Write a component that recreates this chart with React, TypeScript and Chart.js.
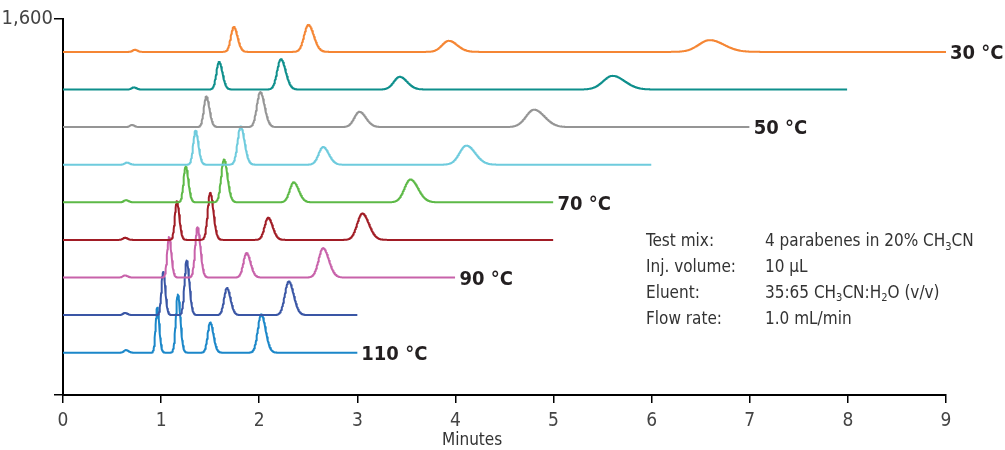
import React, { useEffect, useRef } from 'react';
import { Chart, registerables } from 'chart.js';

Chart.register(...registerables);

// ---- Data ----
const temperatures = [30, 40, 50, 60, 70, 80, 90, 100, 110];
const labeledTemperatures = [30, 50, 70, 90, 110];
const baselineOffsets = [1460, 1300, 1140, 980, 820, 660, 500, 340, 180];
const runEndMinutes = [9, 8, 7, 6, 5, 5, 4, 3, 3];

// retention times (minutes) per temperature
const rtVoid = [0.73, 0.72, 0.7, 0.65, 0.64, 0.63, 0.63, 0.63, 0.64];
const rtPeak1 = [1.74, 1.59, 1.46, 1.35, 1.25, 1.16, 1.08, 1.02, 0.96];
const rtPeak2 = [2.5, 2.22, 2.01, 1.81, 1.64, 1.5, 1.37, 1.26, 1.17];
const rtPeak3 = [3.93, 3.43, 3.02, 2.65, 2.35, 2.09, 1.87, 1.67, 1.5];
const rtPeak4 = [6.59, 5.6, 4.8, 4.11, 3.54, 3.05, 2.65, 2.3, 2.02];

// peak heights (signal units above baseline)
const hVoid = [9, 9, 9, 9, 9, 9, 9, 9, 11];
const hPeak1 = [106, 117, 130, 145, 153, 164, 172, 183, 191];
const hPeak2 = [115, 129, 149, 163, 182, 200, 214, 232, 248];
const hPeak3 = [47, 54, 65, 75, 85, 94, 104, 115, 128];
const hPeak4 = [50, 58, 74, 81, 97, 112, 125, 143, 163];

const xTickValues = [0, 1, 2, 3, 4, 5, 6, 7, 8, 9];
const yTickValues = [0, 1600];

const infoLabels = ['Test mix:', 'Inj. volume:', 'Eluent:', 'Flow rate:'];
const infoValues = ['4 parabenes in 20% CH_3CN', '10 µL', '35:65 CH_3CN:H_2O (v/v)', '1.0 mL/min'];

// ---- styles ----
const traceColors = ['#F58634', '#0E8F8C', '#959595', '#6ECBDD', '#5DB947', '#A11C25', '#C862AA', '#3A56A5', '#1B87C9'];
const NARROW = '"Liberation Sans Narrow", "Arial Narrow", "DejaVu Sans Condensed", sans-serif';
const PEAK_WIDTH_FRACTION = 0.017;
const VOID_SIGMA = 0.02;
const TAIL = 1.3;
const STEP = 0.004;

function peakShape(x: number, t: number, h: number, s: number) {
  const d = x - t;
  const sig = d < 0 ? s : s * TAIL;
  return h * Math.exp(-0.5 * (d / sig) * (d / sig));
}

function buildTrace(i: number) {
  const pts: { x: number; y: number }[] = [];
  const peaks = [
    [rtVoid[i], hVoid[i], VOID_SIGMA],
    [rtPeak1[i], hPeak1[i], rtPeak1[i] * PEAK_WIDTH_FRACTION],
    [rtPeak2[i], hPeak2[i], rtPeak2[i] * PEAK_WIDTH_FRACTION],
    [rtPeak3[i], hPeak3[i], rtPeak3[i] * PEAK_WIDTH_FRACTION],
    [rtPeak4[i], hPeak4[i], rtPeak4[i] * PEAK_WIDTH_FRACTION],
  ];
  const n = Math.round(runEndMinutes[i] / STEP);
  for (let k = 0; k <= n; k++) {
    const x = k * STEP;
    let y = baselineOffsets[i];
    for (const [t, h, s] of peaks) y += peakShape(x, t, h, s);
    pts.push({ x, y });
  }
  return pts;
}

function drawRich(ctx: CanvasRenderingContext2D, text: string, x: number, y: number, size: number) {
  const parts = text.split(/(_\d)/);
  let cx = x;
  for (const p of parts) {
    if (!p) continue;
    if (p.startsWith('_')) {
      ctx.font = `${Math.round(size * 0.62)}px ${NARROW}`;
      ctx.fillText(p.slice(1), cx, y + size * 0.3);
      cx += ctx.measureText(p.slice(1)).width;
    } else {
      ctx.font = `${size}px ${NARROW}`;
      ctx.fillText(p, cx, y);
      cx += ctx.measureText(p).width;
    }
  }
}

const annotationPlugin = {
  id: 'annotations',
  afterDraw(chart: any) {
    const ctx = chart.ctx as CanvasRenderingContext2D;
    const xs = chart.scales.x;
    const ys = chart.scales.y;
    ctx.save();
    // temperature labels
    ctx.fillStyle = '#231F20';
    ctx.textBaseline = 'middle';
    ctx.textAlign = 'left';
    ctx.font = `bold 20px ${NARROW}`;
    temperatures.forEach((t, i) => {
      if (!labeledTemperatures.includes(t)) return;
      const px = xs.getPixelForValue(runEndMinutes[i]) + 4;
      const py = ys.getPixelForValue(baselineOffsets[i]) + 2;
      ctx.fillText(`${t} °C`, px, py);
    });
    // info block
    ctx.fillStyle = '#333333';
    infoLabels.forEach((lab, r) => {
      const y = 242 + r * 25.7;
      ctx.font = `17px ${NARROW}`;
      ctx.fillText(lab, 646, y);
      drawRich(ctx, infoValues[r], 765, y, 17);
    });
    // axis title
    ctx.font = `17px ${NARROW}`;
    ctx.textAlign = 'center';
    ctx.fillStyle = '#333333';
    ctx.fillText('Minutes', xs.getPixelForValue(4.17), 441);
    ctx.restore();
  },
};

export default function App() {
  const ref = useRef<HTMLCanvasElement | null>(null);
  useEffect(() => {
    if (!ref.current) return;
    const datasets = temperatures.map((t, i) => ({
      label: `${t} °C`,
      data: buildTrace(i),
      borderColor: traceColors[i],
      borderWidth: 2,
      borderJoinStyle: 'round' as const,
      pointRadius: 0,
      fill: false,
      tension: 0,
    }));
    const chart = new Chart(ref.current, {
      type: 'line',
      data: { datasets },
      options: {
        animation: false,
        responsive: false,
        parsing: false,
        normalized: true,
        devicePixelRatio: 1,
        layout: { padding: { top: 19, right: 59, left: 0, bottom: 0 } },
        plugins: { legend: { display: false }, tooltip: { enabled: false } },
        scales: {
          x: {
            type: 'linear',
            min: 0,
            max: 9,
            afterBuildTicks: (s: any) => {
              s.ticks = xTickValues.map((v) => ({ value: v }));
            },
            afterFit: (s: any) => {
              s.height = 55;
            },
            border: { color: '#000', width: 2 },
            grid: { drawOnChartArea: false, tickLength: 8, color: '#000', lineWidth: 1.5 },
            ticks: { color: '#444', font: { family: NARROW, size: 19 }, padding: 7, maxRotation: 0 },
          },
          y: {
            type: 'linear',
            min: 0,
            max: 1600,
            afterBuildTicks: (s: any) => {
              s.ticks = yTickValues.map((v) => ({ value: v }));
            },
            afterFit: (s: any) => {
              s.width = 63;
            },
            border: { color: '#000', width: 2 },
            grid: { drawOnChartArea: false, tickLength: 9, color: '#000', lineWidth: 1.5 },
            ticks: {
              color: '#444',
              font: { family: NARROW, size: 20 },
              padding: 1,
              callback: (v: any) => (v === 1600 ? '1,600' : ''),
            },
          },
        },
      },
      plugins: [annotationPlugin],
    });
    return () => chart.destroy();
  }, []);
  return (
    <div style={{ position: 'absolute', left: 0, top: 0, width: 1005, height: 450, background: '#fff' }}>
      <canvas ref={ref} width={1005} height={450} style={{ width: 1005, height: 450 }} />
    </div>
  );
}
